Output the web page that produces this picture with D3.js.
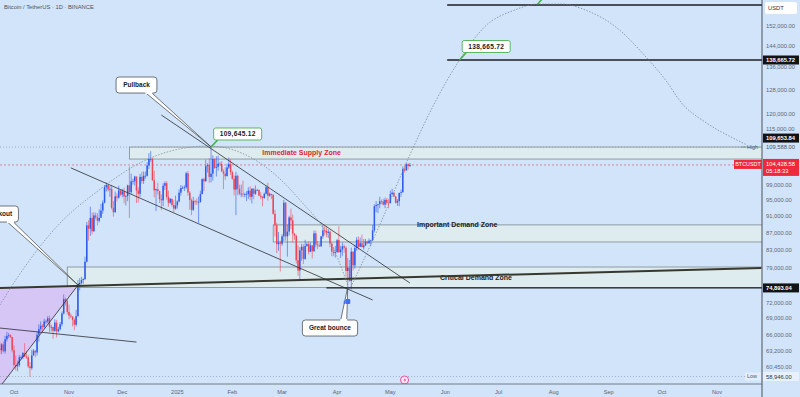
<!DOCTYPE html>
<html>
<head>
<meta charset="utf-8">
<title>BTCUSDT 1D</title>
<script src="https://cdn.jsdelivr.net/npm/d3@7"></script>
<style>
  body { margin: 0; background: #d1e4fa; }
  svg { display: block; font-family: "Liberation Sans", Arial, sans-serif; }
</style>
</head>
<body>
<svg id="chart" width="800" height="397"></svg>
<script>
// daily candles in thousands of USDT, first candle is 2024-09-23 (open = previous close, 24/7 market)
var firstDay = '2024-09-23';
var firstOpen = 63.6;
var closes = [
  63.3,64.3,63.1,65.2,65.8,65.9,65.6,63.3,
  60.8,60.6,60.8,62.1,62.1,62.8,62.2,62.1,60.6,60.3,62.4,63.2,62.9,66.0,67.0,67.6,67.4,68.4,68.4,69.0,67.4,67.4,66.7,68.2,66.6,67.0,67.9,69.9,72.7,72.3,70.2,
  69.5,69.3,68.7,67.8,69.4,75.6,75.9,76.5,76.7,80.4,88.7,87.9,90.5,87.3,91.1,90.6,89.8,90.5,92.3,94.3,98.3,98.9,97.7,97.9,93.0,91.9,95.9,95.6,97.5,96.4,
  97.2,95.9,96.0,98.8,97.0,99.9,99.9,101.2,97.4,96.6,101.1,100.0,101.4,101.4,104.3,106.1,106.1,100.2,97.5,97.8,97.3,95.2,94.9,98.7,99.4,95.8,94.3,95.3,93.7,92.8,93.6,
  94.6,96.9,98.1,98.2,98.3,102.1,96.9,95.0,92.5,94.7,94.6,94.5,94.5,96.5,100.5,99.9,104.1,104.4,101.1,102.0,106.1,103.6,103.9,104.8,104.7,102.6,102.0,101.3,103.7,104.7,102.4,
  100.6,97.7,101.4,97.9,96.6,96.6,96.5,96.5,96.5,97.4,95.8,97.9,96.6,97.5,97.6,96.1,95.8,95.5,96.6,98.3,96.1,96.6,96.3,91.5,88.7,84.3,84.7,84.4,
  86.1,94.3,86.1,87.2,90.6,89.9,86.7,86.2,80.7,78.5,82.9,83.7,81.0,83.9,84.3,82.6,84.0,82.7,86.8,84.2,84.0,83.8,86.1,87.5,87.4,86.9,87.2,84.4,82.6,82.3,82.5,
  85.2,82.5,83.1,83.8,83.5,78.4,79.1,76.3,82.6,79.6,83.4,85.3,83.7,84.5,83.6,84.0,84.9,84.5,85.1,85.2,87.5,93.4,93.7,93.9,94.7,94.6,93.8,95.0,94.3,94.2,
  96.5,96.9,95.9,94.3,94.7,96.8,97.0,103.2,102.9,104.6,104.1,104.43
];
var highs = [
  64.8,64.5,64.8,65.8,66.5,66.3,66.1,65.6,
  64.1,62.4,61.5,62.5,62.4,63.0,64.5,63.2,62.5,61.3,63.4,63.5,63.3,66.5,67.9,68.4,67.9,68.9,68.7,69.4,69.5,67.8,67.4,68.8,68.7,67.4,68.3,70.3,73.6,72.9,72.7,
  71.6,69.9,69.4,69.0,70.6,76.5,76.9,77.2,76.9,81.5,89.5,89.9,93.3,91.8,91.9,91.8,91.7,92.6,94.0,94.9,98.9,99.6,99.0,98.7,98.9,94.7,97.2,96.7,98.7,97.5,
  97.9,98.2,96.3,99.0,104.0,102.0,100.6,101.4,101.2,98.3,101.9,102.5,102.6,102.6,105.2,107.8,108.4,106.5,102.8,98.0,99.5,97.4,96.4,99.4,99.9,99.9,97.4,95.5,95.2,94.9,96.1,
  94.9,97.8,98.9,98.7,98.8,102.5,102.7,97.3,95.4,95.8,95.0,95.4,95.9,97.4,100.7,100.9,105.9,104.9,106.3,109.6,107.2,106.3,106.9,107.1,105.3,105.5,103.2,103.8,104.8,106.5,106.0,
  102.8,101.5,102.5,101.7,99.0,99.0,100.1,96.9,97.3,98.3,98.6,98.1,98.1,98.8,97.9,97.7,97.0,96.0,96.9,98.8,99.5,96.9,96.5,96.5,92.5,89.3,87.1,85.1,
  86.6,95.0,94.4,88.9,91.0,92.8,91.3,86.9,86.5,84.0,83.6,84.4,84.3,85.3,84.7,85.0,84.7,84.1,87.5,87.4,85.0,84.5,86.2,88.8,88.5,88.3,87.8,87.5,84.6,83.5,83.9,
  85.5,88.5,83.9,84.7,84.2,83.8,81.2,80.8,83.5,82.7,84.2,85.9,86.1,85.8,86.5,85.5,85.5,85.1,85.6,85.3,88.8,93.9,94.7,94.0,95.8,95.1,95.3,95.6,95.5,95.2,
  97.4,97.9,96.9,96.0,95.2,96.9,97.7,104.0,104.0,104.9,104.9,105.0
];
var lows = [
  62.7,62.6,62.9,62.7,64.8,65.4,65.4,62.9,
  60.2,59.9,59.8,60.5,61.7,61.8,62.1,61.8,60.3,58.9,60.0,62.4,62.1,62.4,64.8,66.7,66.6,67.1,68.0,68.1,66.5,66.6,65.3,66.5,65.5,66.4,66.8,67.5,69.7,71.4,69.7,
  68.8,69.0,67.5,66.8,67.5,69.3,74.4,75.6,75.7,76.5,80.2,85.1,86.2,86.6,87.1,90.1,88.7,89.4,90.9,91.5,94.1,97.2,97.2,95.8,92.6,90.8,91.8,94.6,95.3,96.0,
  95.7,94.2,93.6,94.7,90.5,96.5,99.0,98.8,94.2,94.3,95.7,99.3,99.2,100.6,101.2,103.3,105.3,100.0,95.7,92.2,96.4,94.2,92.4,93.4,97.6,95.1,93.3,94.0,93.3,91.9,92.5,
  92.8,94.4,96.1,97.8,97.3,97.9,96.1,92.5,91.2,92.2,93.8,93.7,89.3,94.3,96.5,97.3,99.9,102.3,99.5,99.6,100.1,103.3,101.2,102.8,104.1,102.5,97.8,100.3,101.3,103.3,101.6,
  100.3,96.2,91.2,96.2,96.2,95.7,95.7,95.7,94.7,95.3,94.9,94.1,95.2,96.3,97.3,96.0,95.2,93.4,95.3,96.4,94.8,95.8,95.2,91.3,86.1,82.3,82.8,78.3,
  83.9,85.0,85.1,81.5,86.3,87.8,84.7,85.3,80.0,77.4,76.6,80.6,79.9,80.8,83.7,82.0,82.5,81.1,82.6,83.6,83.2,83.7,83.7,85.5,86.3,85.9,85.8,83.6,81.6,81.6,81.3,
  82.4,82.3,81.2,81.7,82.4,77.2,74.5,76.2,74.6,78.5,78.9,82.8,83.0,83.7,83.6,83.1,83.9,84.3,84.4,83.9,85.1,87.0,91.9,91.7,92.9,93.9,93.6,92.9,93.8,92.9,
  94.1,96.3,95.7,94.1,93.5,93.4,95.8,96.9,102.3,102.8,103.1,103.9
];

var lastPrice = 104428.58;
var countdown = '05:18:33';
var rangeHigh = 109588.00;
var rangeLow = 58946.00;

// right axis and time axis
var priceTicks = [152000, 144000, 136000, 128000, 120000, 115000, 99000, 95000, 91000, 87000, 83000, 79000, 72000, 69000, 66000, 63200, 60450];
var monthTicks = ['2024-10-01','2024-11-01','2024-12-01','2025-01-01','2025-02-01','2025-03-01','2025-04-01','2025-05-01','2025-06-01','2025-07-01','2025-08-01','2025-09-01','2025-10-01','2025-11-01'];
var monthLabels = ['Oct','Nov','Dec','2025','Feb','Mar','Apr','May','Jun','Jul','Aug','Sep','Oct','Nov'];

// drawings (date, price)
var zoneNames = ['Immediate Supply Zone', 'Important Demand Zone', 'Critical Demand Zone'];
var zoneFrom = ['2024-12-05', '2025-02-24', '2024-10-31'];
var zoneLow = [106100, 84800, 75000];
var zoneHigh = [109600, 88800, 79250];
var zoneTextDate = ['2025-03-12', '2025-05-16', '2025-05-29'];
var zoneTextPrice = [107850, 88800, 77100];

var levelPrices = [160900, 138665.72, 74893.04];
var levelFrom = ['2025-06-02', '2025-06-02', '2025-03-26'];

var trendLine = [['2024-09-23', 74870], ['2025-11-26', 79040]];
var wedge = [['2024-09-23', 74870], ['2024-11-06', 75300], ['2024-09-23', 57300]];
var thinLines = [
  [['2024-12-23', 119500], ['2025-05-12', 75900]],
  [['2024-11-02', 103600], ['2025-04-21', 72500]],
  [['2024-09-23', 67200], ['2024-12-09', 64700]],
  [['2024-09-23', 57300], ['2024-11-07', 75900]]
];

var arcDates = ['2024-09-23','2024-10-04','2024-10-26','2024-11-18','2024-12-11','2025-01-02','2025-01-19','2025-02-05','2025-02-22','2025-03-11','2025-03-28','2025-04-07'];
var arcPrices = [71500, 77600, 88800, 97600, 105000, 109000, 109900, 108100, 103000, 95000, 85200, 75500];

var pathDates = ['2025-04-08','2025-04-25','2025-05-12','2025-05-26','2025-06-09','2025-06-23','2025-07-10','2025-07-23','2025-08-06','2025-08-19','2025-09-05','2025-09-22','2025-10-03','2025-10-12','2025-10-26','2025-11-10','2025-11-18'];
var pathPrices = [74500, 88800, 107300, 123500, 138700, 151600, 158700, 161300, 161300, 158700, 151600, 139800, 131400, 123500, 117000, 112300, 110200];

var calloutText = ['Pullback', 'Great bounce', 'Breakout'];
var calloutDate = ['2024-12-09', '2025-03-28', '2024-09-22'];
var calloutPrice = [129600, 67200, 91450];
var calloutTargetDate = ['2025-01-20', '2025-04-07', '2024-11-06'];
var calloutTargetPrice = [109645, 75070, 75500];

var noteText = ['109,645.12', '138,665.72'];
var noteDate = ['2025-02-04', '2025-06-24'];
var notePrice = [113530, 143820];
var noteTargetDate = ['2025-01-20', '2025-06-09'];
var noteTargetPrice = [109645.12, 138665.72];

var W = 800, H = 397, axisX = 762, plotBottom = 384;
var up = '#2f5bec', down = '#ee4658';

var parse = d3.utcParse('%Y-%m-%d');
var x = d3.scaleUtc().domain([parse('2024-10-01'), parse('2025-11-01')]).range([14, 717]);
var y = d3.scaleLog().domain([163080, 57610]).range([0, 385]);
var pt = function (d, p) { return [x(parse(d)), y(p)]; };
var fmt = d3.format(',.2f');

var svg = d3.select('#chart');
svg.append('rect').attr('width', W).attr('height', H).attr('fill', '#d1e4fa');
svg.append('defs').append('clipPath').attr('id', 'plot')
  .append('rect').attr('width', axisX).attr('height', plotBottom);
var g = svg.append('g').attr('clip-path', 'url(#plot)');

// zones
zoneNames.forEach(function (name, i) {
  var x0 = x(parse(zoneFrom[i]));
  g.append('rect')
    .attr('x', x0).attr('width', axisX - x0 + 2)
    .attr('y', y(zoneHigh[i])).attr('height', y(zoneLow[i]) - y(zoneHigh[i]))
    .attr('fill', '#e1ecec').attr('fill-opacity', 0.85)
    .attr('stroke', '#7d8b90').attr('stroke-width', 0.8);
});

// purple wedge under the long trend line
g.append('path')
  .attr('d', d3.line()(wedge.map(function (d) { return pt(d[0], d[1]); })) + 'Z')
  .attr('fill', '#d5c6f6');

// dotted high/low and last price lines
g.append('line').attr('x1', 0).attr('x2', axisX).attr('y1', y(rangeHigh)).attr('y2', y(rangeHigh))
  .attr('stroke', '#8693a0').attr('stroke-width', 0.6).attr('stroke-dasharray', '1,2');
g.append('line').attr('x1', 0).attr('x2', axisX).attr('y1', y(rangeLow)).attr('y2', y(rangeLow))
  .attr('stroke', '#8693a0').attr('stroke-width', 0.6).attr('stroke-dasharray', '1,2');
g.append('line').attr('x1', 0).attr('x2', axisX).attr('y1', y(lastPrice)).attr('y2', y(lastPrice))
  .attr('stroke', '#e2566b').attr('stroke-width', 0.7).attr('stroke-dasharray', '2,2');

// candles
var start = parse(firstDay);
var candles = closes.map(function (c, i) {
  return {
    date: d3.utcDay.offset(start, i),
    o: (i ? closes[i - 1] : firstOpen) * 1000,
    h: highs[i] * 1000,
    l: lows[i] * 1000,
    c: (i === closes.length - 1 ? lastPrice / 1000 : c) * 1000
  };
});
var bw = 1.5;
var cg = g.append('g');
cg.selectAll('line').data(candles).join('line')
  .attr('x1', function (d) { return x(d.date); })
  .attr('x2', function (d) { return x(d.date); })
  .attr('y1', function (d) { return y(d.h); })
  .attr('y2', function (d) { return y(d.l); })
  .attr('stroke', function (d) { return d.c >= d.o ? up : down; })
  .attr('stroke-width', 0.6);
cg.selectAll('rect').data(candles).join('rect')
  .attr('x', function (d) { return x(d.date) - bw / 2; })
  .attr('width', bw)
  .attr('y', function (d) { return y(Math.max(d.o, d.c)); })
  .attr('height', function (d) { return Math.max(0.7, Math.abs(y(d.o) - y(d.c))); })
  .attr('fill', function (d) { return d.c >= d.o ? up : down; });

// zone captions
var zoneTextColor = ['#e0262f', '#222', '#222'];
zoneNames.forEach(function (name, i) {
  g.append('text')
    .attr('x', x(parse(zoneTextDate[i]))).attr('y', y(zoneTextPrice[i]))
    .attr('dy', '0.35em')
    .attr('text-anchor', i === 0 ? 'middle' : 'start')
    .attr('font-size', 7).attr('font-weight', 600)
    .attr('fill', zoneTextColor[i])
    .text(name);
});

// long trend line
g.append('path')
  .attr('d', d3.line()(trendLine.map(function (d) { return pt(d[0], d[1]); })))
  .attr('stroke', '#37392f').attr('stroke-width', 2).attr('fill', 'none');

// channel and helper lines
thinLines.forEach(function (seg) {
  g.append('path')
    .attr('d', d3.line()(seg.map(function (d) { return pt(d[0], d[1]); })))
    .attr('stroke', '#2c2f33').attr('stroke-width', 0.8).attr('fill', 'none');
});

// horizontal target / support levels
levelPrices.forEach(function (p, i) {
  g.append('line')
    .attr('x1', x(parse(levelFrom[i]))).attr('x2', axisX)
    .attr('y1', y(p)).attr('y2', y(p))
    .attr('stroke', '#1e1f22').attr('stroke-width', i < 2 ? 1.5 : 1.2);
});

// dotted arcs
var curve = d3.line().curve(d3.curveMonotoneX);
g.append('path')
  .attr('d', curve(arcDates.map(function (d, i) { return pt(d, arcPrices[i]); })))
  .attr('fill', 'none').attr('stroke', '#75828f').attr('stroke-width', 0.7).attr('stroke-dasharray', '1.5,1.5');
g.append('path')
  .attr('d', curve(pathDates.map(function (d, i) { return pt(d, pathPrices[i]); })))
  .attr('fill', 'none').attr('stroke', '#6f7c8a').attr('stroke-width', 0.7).attr('stroke-dasharray', '1.5,1.5');

// callouts with a tail
calloutText.forEach(function (t, i) {
  var c = pt(calloutDate[i], calloutPrice[i]);
  var tg = pt(calloutTargetDate[i], calloutTargetPrice[i]);
  var w = t.length * 3.6 + 12, h = 16;
  var bx = c[0] - w / 2, by = c[1] - h / 2;
  var baseY = tg[1] > by + h ? by + h : by;
  var baseX = Math.min(Math.max(tg[0], bx + 6), bx + w - 4);
  var tail = [[baseX - 7, baseY], tg, [baseX - 1, baseY]];
  g.append('path').attr('d', d3.line()(tail) + 'Z')
    .attr('fill', '#ffffff').attr('stroke', '#3a3d42').attr('stroke-width', 0.7);
  g.append('rect').attr('x', bx).attr('y', by).attr('width', w).attr('height', h).attr('rx', 3)
    .attr('fill', '#ffffff').attr('stroke', '#3a3d42').attr('stroke-width', 0.7);
  g.append('rect').attr('x', baseX - 7.5).attr('y', baseY - 1).attr('width', 7).attr('height', 2).attr('fill', '#ffffff');
  g.append('text').attr('x', c[0]).attr('y', c[1]).attr('dy', '0.35em')
    .attr('text-anchor', 'middle').attr('font-size', 6.5).attr('font-weight', 600).attr('fill', '#222')
    .text(t);
});

// green price notes
noteText.forEach(function (t, i) {
  var c = pt(noteDate[i], notePrice[i]);
  var tg = pt(noteTargetDate[i], noteTargetPrice[i]);
  var w = 48, h = 12;
  g.append('line').attr('x1', tg[0]).attr('y1', tg[1]).attr('x2', c[0] - w / 2 + 4).attr('y2', c[1] + h / 2)
    .attr('stroke', '#4caf50').attr('stroke-width', 1.6);
  g.append('rect').attr('x', c[0] - w / 2).attr('y', c[1] - h / 2).attr('width', w).attr('height', h).attr('rx', 2)
    .attr('fill', '#ffffff').attr('stroke', '#4caf50').attr('stroke-width', 0.9);
  g.append('text').attr('x', c[0]).attr('y', c[1]).attr('dy', '0.36em')
    .attr('text-anchor', 'middle').attr('font-size', 6.6).attr('font-weight', 700).attr('fill', '#1b1b1b')
    .attr('letter-spacing', 0.3).text(t);
});
// pointer to a note above the visible area
var topTip = pt('2025-07-23', 161300);
g.append('line').attr('x1', topTip[0]).attr('y1', topTip[1]).attr('x2', topTip[0] + 7).attr('y2', topTip[1] - 8)
  .attr('stroke', '#4caf50').attr('stroke-width', 1.6);

// small icons at the bounce and at the bottom
var bounce = pt('2025-04-07', 72300);
g.append('rect').attr('x', bounce[0] - 2.5).attr('y', bounce[1] - 2).attr('width', 5).attr('height', 5).attr('rx', 1).attr('fill', '#3d6ff0');
g.append('rect').attr('x', bounce[0] - 4).attr('y', bounce[1]).attr('width', 1.4).attr('height', 3).attr('fill', '#3d6ff0');
var ev = [x(parse('2025-05-09')), 380];
g.append('circle').attr('cx', ev[0]).attr('cy', ev[1]).attr('r', 4).attr('fill', '#fbe9f4').attr('stroke', '#e0409a').attr('stroke-width', 0.9);
g.append('path').attr('d', 'M' + (ev[0] + 0.8) + ',' + (ev[1] - 2.6) + 'l-2,3h1.6l-0.9,2.4l2.2,-3.2h-1.6z').attr('fill', '#e0409a');

// title
svg.append('text').attr('x', 4).attr('y', 9).attr('font-size', 5.8).attr('fill', '#4a5560')
  .text('Bitcoin / TetherUS · 1D · BINANCE');

// axes frame
svg.append('line').attr('x1', 0).attr('x2', axisX).attr('y1', plotBottom).attr('y2', plotBottom)
  .attr('stroke', '#59626b').attr('stroke-width', 0.8);
svg.append('line').attr('x1', axisX).attr('x2', axisX).attr('y1', 0).attr('y2', H)
  .attr('stroke', '#3b4148').attr('stroke-width', 0.9);

// time axis
svg.append('g').selectAll('text').data(monthTicks).join('text')
  .attr('x', function (d) { return x(parse(d)); })
  .attr('y', 394)
  .attr('text-anchor', 'middle').attr('font-size', 5.6).attr('fill', '#59636e')
  .text(function (d, i) { return monthLabels[i]; });

// price axis
var ax = svg.append('g');
ax.selectAll('text').data(priceTicks).join('text')
  .attr('x', 766).attr('y', function (d) { return y(d); }).attr('dy', '0.35em')
  .attr('font-size', 5.8).attr('fill', '#5d6874')
  .text(function (d) { return fmt(d); });

// USDT badge
ax.append('rect').attr('x', 765).attr('y', 2).attr('width', 32).attr('height', 12).attr('rx', 2).attr('fill', '#ffffff');
ax.append('text').attr('x', 768).attr('y', 8).attr('dy', '0.35em').attr('font-size', 5.8).attr('fill', '#333').text('USDT');

// high and low markers
var yHigh = y(rangeHigh), yLow = y(rangeLow);
ax.append('text').attr('x', 766).attr('y', yHigh).attr('dy', '0.35em').attr('font-size', 5.8).attr('fill', '#4d5864').text(fmt(rangeHigh));
svg.append('line').attr('x1', 741).attr('x2', 746).attr('y1', yHigh).attr('y2', yHigh).attr('stroke', '#6f7a86').attr('stroke-width', 0.6);
svg.append('text').attr('x', 747).attr('y', yHigh).attr('dy', '0.35em').attr('font-size', 5.4).attr('fill', '#4d5864').text('High');
ax.append('rect').attr('x', 763).attr('y', yLow - 4.5).attr('width', 36).attr('height', 9).attr('fill', '#e8f1fb');
ax.append('text').attr('x', 766).attr('y', yLow).attr('dy', '0.35em').attr('font-size', 5.8).attr('fill', '#2c3540').text(fmt(rangeLow));
svg.append('rect').attr('x', 745).attr('y', yLow - 4).attr('width', 16).attr('height', 8).attr('fill', '#e3eefa');
svg.append('text').attr('x', 747).attr('y', yLow).attr('dy', '0.35em').attr('font-size', 5.4).attr('fill', '#4d5864').text('Low');

// black level badges (nudged up when they collide with the high marker)
[138665.72, 109653.84, 74893.04].forEach(function (p) {
  var yy = y(p);
  if (Math.abs(yy - yHigh) < 9) yy = yHigh - 9;
  ax.append('rect').attr('x', 763).attr('y', yy - 4.5).attr('width', 36).attr('height', 9).attr('fill', '#121315');
  ax.append('text').attr('x', 766).attr('y', yy).attr('dy', '0.35em').attr('font-size', 5.8)
    .attr('font-weight', 600).attr('fill', '#ffffff').text(fmt(p));
});

// last price badge
var yLast = y(lastPrice);
ax.append('rect').attr('x', 763).attr('y', yLast - 6).attr('width', 36).attr('height', 17).attr('fill', '#f0283c');
ax.append('text').attr('x', 766).attr('y', yLast - 1).attr('dy', '0.35em').attr('font-size', 5.8).attr('fill', '#ffffff').text(fmt(lastPrice));
ax.append('text').attr('x', 766).attr('y', yLast + 6).attr('dy', '0.35em').attr('font-size', 5.8).attr('fill', '#ffffff').text(countdown);
svg.append('rect').attr('x', 734).attr('y', yLast - 5).attr('width', 28).attr('height', 9).attr('fill', '#f0283c');
svg.append('text').attr('x', 748).attr('y', yLast - 0.5).attr('dy', '0.35em').attr('text-anchor', 'middle')
  .attr('font-size', 5.4).attr('fill', '#ffffff').text('BTCUSDT');
</script>
</body>
</html>
